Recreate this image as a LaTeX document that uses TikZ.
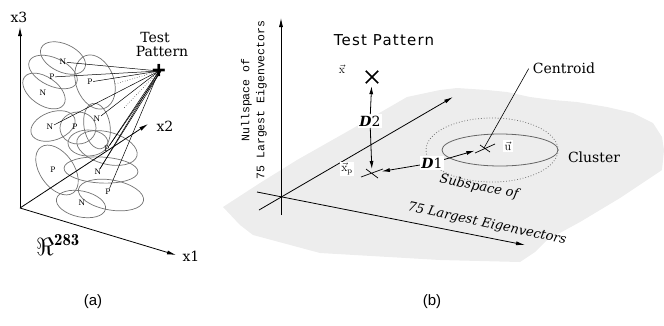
\documentclass[tikz,border=0pt]{standalone}
\usepackage{fontspec}
\setsansfont{Liberation Sans}
\setmonofont{Liberation Mono}
\newfontfamily\labelfont{DejaVu Serif}
\newfontfamily\tpfont[LetterSpace=8]{DejaVu Sans}
\usetikzlibrary{arrows.meta}

\tikzset{
  axis/.style={-{Latex[length=9pt,width=4pt]}, line width=0.8pt},
  dtip/.style={-{Latex[length=8pt,width=4pt]}, line width=0.8pt},
  blob/.style={black!55, line width=0.7pt},
  ray/.style={line width=0.5pt},
  np/.style={font=\labelfont\fontsize{7.5}{7.5}\selectfont, inner sep=0.5pt},
  lab/.style={font=\labelfont\fontsize{14}{14}\selectfont, inner sep=0pt},
  tag/.style={fill=white, inner sep=1.5pt},
  sublab/.style={font=\labelfont\itshape\fontsize{13}{13}\selectfont, inner sep=0pt},
}

\begin{document}
\begin{tikzpicture}[x=1pt,y=-1pt]
    \useasboundingbox (0,0) rectangle (664,325);

    % (a) clusters in the full space
    \coordinate (o) at (20,208);
    \coordinate (x1end) at (176,255);
    \coordinate (x2end) at (148,124);
    \coordinate (x3end) at (20,27);
    \foreach \cx/\cy/\rx/\ry/\ang in {63/58/24/14/-25, 53/72/26/14/-25, 95/82/28/19/-70,
        44/91/24/14/-35, 53/126/23/14/20, 78/128/18/16/0, 97/126/23/13/-80,
        88/143/20/13/0, 107/148/31/16/-15, 57/170/28/17/-55, 101/170/37/13/-3,
        111/195/33/15/-10, 81/204/25/13/-12}
      \draw[blob] (\cx,\cy) circle[x radius=\rx, y radius=\ry, rotate=\ang];
    \draw[axis] (o) -- (x3end);
    \draw[axis] (o) -- (x1end);
    \draw[axis] (o) -- (x2end);
    \node[lab] (x1) at (191,256) {x1};
    \node[lab] (x2) at (165,126) {x2};
    \node[lab] (x3) at (19,17) {x3};
    \node[font=\fontsize{24}{24}\selectfont] (rspace) at (58,245) {$\Re^{\mathbf{283}}$};

    \node[lab] (tptop) at (155,37) {Test};
    \node[lab] (tpbot) at (162,51) {Pattern};
    \node[font=\sffamily\bfseries\fontsize{24}{24}\selectfont, inner sep=0pt] (tp) at (159,71) {+};

    \node[np] (n1) at (63,62) {N};
    \node[np] (p1) at (52,77) {P};
    \node[np] (p2) at (90,82) {P};
    \node[np] (n2) at (43,93) {N};
    \node[np] (n3) at (50,127) {N};
    \node[np] (p3) at (75,127) {P};
    \node[np] (n4) at (97,119) {N};
    \node[np] (p4) at (107,149) {P};
    \node[np] (p5) at (53,170) {P};
    \node[np] (n5) at (98,172) {N};
    \node[np] (p6) at (108,192) {P};
    \node[np] (n6) at (82,203) {N};
    \foreach \n in {n1,p1,p2,n3,n4,p4,n5,p6}
      \draw[ray] (tp.center) -- (\n);
    \draw[ray] ([xshift=2pt]tp.center) -- ([xshift=2pt]p4);
    \draw[ray] ([xshift=2pt]tp.center) -- ([xshift=2pt]n5);
    \draw[ray, dotted] (tp.center) -- (115,84);
    \draw[ray, dotted] (tp.center) -- (124,108);

    % (b) subspace and nullspace
    \fill[black!7] (223,207) -- (260,183) -- (297,160) -- (350,130) -- (407,97) -- (440,90)
      -- (457,88) -- (487,90) -- (507,92) -- (530,97) -- (553,100) -- (577,102) -- (607,107)
      -- (633,113) -- (653,123) -- (662,137) -- (664,150) -- (662,170) -- (653,176)
      -- (620,198) -- (580,222) -- (547,240) -- (535,252) -- (520,262) -- (440,260)
      -- (320,253) -- (253,235) -- (240,225) -- cycle;
    \coordinate (vbot) at (281,215);
    \coordinate (vtop) at (281,18);
    \coordinate (hbeg) at (257,192);
    \coordinate (hend) at (525,245);
    \coordinate (dbeg) at (259,210);
    \coordinate (dend) at (453,97);
    \draw[axis] (vbot) -- (vtop);
    \draw[axis] (hbeg) -- (hend);
    \draw[axis] (dbeg) -- (dend);
    \node[font=\ttfamily\fontsize{11.5}{15}\selectfont, rotate=90, align=center] (null) at (254,100)
      {Nullspace of\\75 Largest Eigenvectors};

    \node[font=\tpfont\fontsize{15}{15}\selectfont] (tptitle) at (384,40) {Test Pattern};
    \node[minimum size=12pt, inner sep=0pt] (xt) at (372,77) {};
    \draw[line width=1.6pt] (xt.north west) -- (xt.south east) (xt.north east) -- (xt.south west);
    \node[font=\fontsize{12}{12}\selectfont] (xlab) at (342,69) {$\vec{\mathrm{x}}$};

    \draw[black!55, dotted, line width=0.8pt] (492,150) circle[x radius=66, y radius=32];
    \draw[black!60, line width=0.8pt] (500,150) circle[x radius=58, y radius=16];

    \coordinate (xp) at (372,173);
    \coordinate (cen) at (484,148);
    \draw[line width=0.7pt] (361,177) -- (383,169) (366,169) -- (378,178);
    \draw[line width=0.7pt] (475,153) -- (495,144) (480,145) -- (490,152);
    \node[tag, font=\fontsize{12}{12}\selectfont] (xplab) at (347,169) {$\vec{\mathrm{x}}_{\mathrm{p}}$};
    \node[tag, font=\fontsize{12}{12}\selectfont] (ulab) at (508,146) {$\vec{\mathrm{u}}$};

    \node[tag, font=\labelfont\fontsize{14}{14}\selectfont] (d2) at (370,121) {\textbf{\textit{D}}2};
    \node[tag, font=\labelfont\fontsize{14}{14}\selectfont] (d1) at (432,163) {\textbf{\textit{D}}1};
    \draw[dtip, shorten >=3pt] (d2) -- (xt);
    \draw[dtip, shorten >=4pt] (d2) -- (xp);
    \draw[dtip, shorten >=10pt] (d1) -- (xp);
    \draw[dtip, shorten >=10pt] (d1) -- (cen);

    \node[lab] (centroid) at (564,68) {Centroid};
    \draw[line width=0.6pt] ([xshift=-4pt,yshift=5pt]centroid.south west) -- (cen);
    \node[lab] (cluster) at (594,157) {Cluster};
    \node[sublab, rotate=-11] (subtop) at (479,187) {Subspace of};
    \node[sublab, rotate=-12] (subbot) at (487,224) {75 Largest Eigenvectors};

    \node[font=\sffamily\fontsize{15}{15}\selectfont] (capa) at (93,302) {(a)};
    \node[font=\sffamily\fontsize{15}{15}\selectfont] (capb) at (432,302) {(b)};
\end{tikzpicture}
\end{document}
